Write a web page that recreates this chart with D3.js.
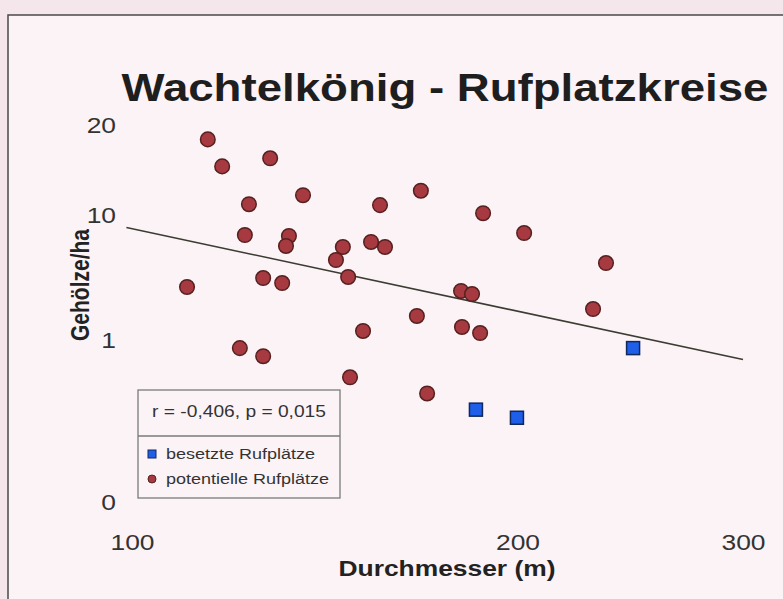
<script src="https://cdnjs.cloudflare.com/ajax/libs/d3/7.8.5/d3.min.js"></script>
<style>
    body { margin: 0; background: #f5e6ec; }
    svg { display: block; }
    .axis .domain { display: none; }
</style>
<svg width="783" height="599"></svg>
<script>
    // Durchmesser (m) und Gehölze/ha
    var potX = [114.6, 117.6, 128.2, 123.4, 136.0, 122.5, 132.6, 131.9, 168.1, 156.2, 146.1,
                153.7, 157.6, 144.3, 188.0, 202.4, 234.5, 180.7, 184.3, 229.1, 181.0, 187.0,
                110.4, 126.6, 131.0, 121.4, 126.6, 147.5, 166.9, 151.5, 148.0, 170.0];
    var potY = [18.4, 15.4, 16.3, 11.2, 12.2, 8.56, 8.49, 7.77, 12.7, 11.1, 7.70,
                8.06, 7.70, 6.76, 10.2, 8.70, 6.54, 4.53, 4.31, 3.23, 1.94, 1.50,
                4.82, 5.46, 5.10, 0.95, 0.90, 5.54, 2.73, 1.65, 0.77, 0.67];
    var occX = [246.2, 185.6, 199.8];
    var occY = [0.95, 0.57, 0.52];
    var trendX = [99, 300];
    var trendY = [9.1, 0.88];
    var xTicks = [100, 200, 300];
    var yTicks = [0, 1, 10, 20];
    var statText = "r = -0,406, p = 0,015";
    var seriesNames = ["besetzte Rufplätze", "potentielle Rufplätze"];

    var sx = 1.2; // scan is stretched horizontally
    var svg = d3.select("svg");

    svg.append("rect")
        .attr("x", 8).attr("y", 15)
        .attr("width", 800).attr("height", 600)
        .attr("fill", "#fcf3f7")
        .attr("stroke", "#4a4a4a")
        .attr("stroke-width", 1.5);

    var x = d3.scaleLog().domain([100, 300]).range([132, 743]);
    var y = d3.scaleLinear().domain(yTicks).range([502, 340, 215, 125]);

    // title
    svg.append("text")
        .attr("transform", "translate(445,101) scale(" + sx + ",1)")
        .attr("text-anchor", "middle")
        .attr("font-family", "Liberation Sans, Arial, sans-serif")
        .attr("font-weight", "bold")
        .attr("font-size", 38)
        .attr("fill", "#1e1e1e")
        .text("Wachtelkönig - Rufplatzkreise");

    // axes
    var gx = svg.append("g")
        .attr("class", "axis")
        .attr("transform", "translate(0,530)")
        .call(d3.axisBottom(x).tickValues(xTicks).tickFormat(d3.format("d")).tickSize(0).tickPadding(4));
    var gy = svg.append("g")
        .attr("class", "axis")
        .attr("transform", "translate(116,0)")
        .call(d3.axisLeft(y).tickValues(yTicks).tickFormat(d3.format("d")).tickSize(0).tickPadding(0));
    svg.selectAll(".axis text")
        .attr("font-family", "Liberation Sans, Arial, sans-serif")
        .attr("font-size", 22)
        .attr("fill", "#333")
        .attr("transform", "scale(" + sx + ",1)");

    svg.append("text")
        .attr("transform", "translate(447,576) scale(" + sx + ",1)")
        .attr("text-anchor", "middle")
        .attr("font-family", "Liberation Sans, Arial, sans-serif")
        .attr("font-weight", "bold")
        .attr("font-size", 22)
        .attr("fill", "#222")
        .text("Durchmesser (m)");

    svg.append("text")
        .attr("transform", "translate(89,285) scale(" + sx + ",1) rotate(-90)")
        .attr("text-anchor", "middle")
        .attr("font-family", "Liberation Sans, Arial, sans-serif")
        .attr("font-weight", "bold")
        .attr("font-size", 21)
        .attr("fill", "#222")
        .text("Gehölze/ha");

    // trend line
    var line = d3.line()
        .x(function(d) { return x(d[0]); })
        .y(function(d) { return y(d[1]); });
    svg.append("path")
        .datum(d3.zip(trendX, trendY))
        .attr("d", line)
        .attr("fill", "none")
        .attr("stroke", "#3c3c32")
        .attr("stroke-width", 1.6);

    // potentielle Rufplätze
    svg.append("g")
        .selectAll("circle")
        .data(d3.zip(potX, potY))
        .enter().append("circle")
        .attr("cx", function(d) { return x(d[0]); })
        .attr("cy", function(d) { return y(d[1]); })
        .attr("r", 7.3)
        .attr("fill", "#a63a40")
        .attr("stroke", "#55201f")
        .attr("stroke-width", 1.5);

    // besetzte Rufplätze
    svg.append("g")
        .selectAll("rect")
        .data(d3.zip(occX, occY))
        .enter().append("rect")
        .attr("x", function(d) { return x(d[0]) - 6.5; })
        .attr("y", function(d) { return y(d[1]) - 6.5; })
        .attr("width", 13)
        .attr("height", 13)
        .attr("fill", "#1e5ee8")
        .attr("stroke", "#10285a")
        .attr("stroke-width", 1.5);

    // legend
    var lg = svg.append("g").attr("transform", "translate(138,390)");
    lg.append("rect")
        .attr("width", 202).attr("height", 108)
        .attr("fill", "#fcf3f7")
        .attr("stroke", "#7a7a7a")
        .attr("stroke-width", 1.3);
    lg.append("line")
        .attr("x1", 0).attr("x2", 202)
        .attr("y1", 46).attr("y2", 46)
        .attr("stroke", "#7a7a7a")
        .attr("stroke-width", 1.3);
    lg.append("text")
        .attr("transform", "translate(101,27) scale(" + sx + ",1)")
        .attr("text-anchor", "middle")
        .attr("font-family", "Liberation Sans, Arial, sans-serif")
        .attr("font-size", 16)
        .attr("fill", "#333")
        .text(statText);

    var items = lg.selectAll(".item")
        .data(seriesNames)
        .enter().append("g")
        .attr("class", "item")
        .attr("transform", function(d, i) { return "translate(14," + (64 + i * 25) + ")"; });
    items.filter(function(d, i) { return i === 0; })
        .append("rect")
        .attr("x", -4).attr("y", -4).attr("width", 8).attr("height", 8)
        .attr("fill", "#1e5ee8").attr("stroke", "#10285a");
    items.filter(function(d, i) { return i === 1; })
        .append("circle")
        .attr("r", 4)
        .attr("fill", "#a63a40").attr("stroke", "#55201f");
    items.append("text")
        .attr("transform", "translate(14,5) scale(" + sx + ",1)")
        .attr("font-family", "Liberation Sans, Arial, sans-serif")
        .attr("font-size", 15)
        .attr("fill", "#333")
        .text(function(d) { return d; });
</script>
